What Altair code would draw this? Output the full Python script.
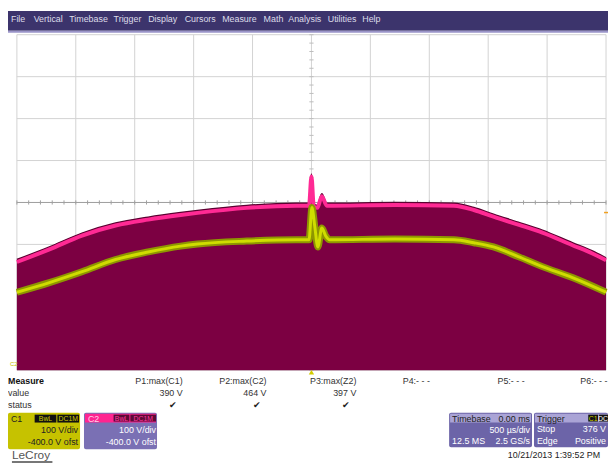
import altair as alt
import pandas as pd

# ---- waveform data (time in ms, voltage in V) ----
c2_t = [-2.5, -2.224, -1.947, -1.662, -1.386, -1.110, -0.967, -0.549, -0.13, -0.021, 0.0, 0.02, 0.05, 0.088, 0.13,
        0.708, 1.21, 1.378, 1.545, 1.755, 1.96, 2.215, 2.38, 2.5]
c2_v = [264, 294, 327, 351, 365, 376, 381, 393, 398, 398, 468, 396, 393, 421, 398,
        400, 398, 388, 372, 353, 334, 304, 285, 268]

c1_t = [-2.5, -2.224, -1.947, -1.662, -1.386, -1.110, -0.967, -0.549, -0.13, -0.021, 0.004, 0.029, 0.054, 0.088,
        0.121, 0.155, 0.708, 1.21, 1.378, 1.545, 1.755, 1.96, 2.215, 2.5]
c1_v = [186, 209, 235, 264, 282, 296, 301, 308, 311, 311, 388, 341, 294, 339,
        320, 311, 313, 311, 304, 294, 271, 247, 221, 186]

grid_t = [-2.5, -2.0, -1.5, -1.0, -0.5, 0.0, 0.5, 1.0, 1.5, 2.0, 2.5]
grid_v = [0, 100, 200, 300, 400, 500, 600, 700, 800]
minor_t = [i / 10 for i in range(-25, 26)]
minor_v = [i * 20 for i in range(0, 41)]

menu_items = ["File", "Vertical", "Timebase", "Trigger", "Display", "Cursors", "Measure", "Math", "Analysis", "Utilities", "Help"]
menu_x = [11, 34, 70, 115, 150, 187, 225, 267, 292, 332, 367]

FONT = "Liberation Sans"
OFF = 8  # page margin
XS = alt.Scale(domain=[-2.5, 2.5], range=[17 - OFF, 614 - OFF])
YS = alt.Scale(domain=[0, 800], range=[372 - OFF, 32 - OFF])

one = pd.DataFrame({"a": [0]})
layers = []


def rect(x1, y1, x2, y2, color, cr=0):
    return alt.Chart(one).mark_rect(color=color, cornerRadius=cr).encode(
        x=alt.value(x1 - OFF), x2=alt.value(x2 - OFF), y=alt.value(y1 - OFF), y2=alt.value(y2 - OFF))


def txt(x, y, s, size=9, color="#333333", align="left", weight="normal"):
    return alt.Chart(one).mark_text(text=s, align=align, baseline="middle", fontSize=size,
                                    color=color, fontWeight=weight, font=FONT).encode(
        x=alt.value(x - OFF), y=alt.value(y - OFF))


def X(f="t"):
    return alt.X(f + ":Q", scale=XS, axis=None)


def Y(f="v"):
    return alt.Y(f + ":Q", scale=YS, axis=None)


# background
layers.append(rect(8, 8, 616, 469, "#ffffff"))
# menu bar
layers.append(rect(8, 8, 616, 28, "#3c346c"))
layers.append(rect(8, 28, 616, 30, "#9a94c8"))
for name, mx in zip(menu_items, menu_x):
    layers.append(txt(max(mx, 9), 16, name, size=9, color="#dcdcea"))

# grid
gdf_t = pd.DataFrame({"t": grid_t, "v0": 0, "v1": 800})
gdf_v = pd.DataFrame({"v": grid_v, "t0": -2.5, "t1": 2.5})
layers.append(alt.Chart(gdf_t).mark_rule(color="#d2d2d2", strokeWidth=1).encode(
    x=X("t"), y=Y("v0"), y2="v1:Q"))
layers.append(alt.Chart(gdf_v).mark_rule(color="#d2d2d2", strokeWidth=1).encode(
    y=Y("v"), x=X("t0"), x2="t1:Q"))
# center lines and minor ticks
layers.append(alt.Chart(pd.DataFrame({"v": [400], "t0": [-2.5], "t1": [2.5]})).mark_rule(color="#a0a0a0").encode(
    y=Y("v"), x=X("t0"), x2="t1:Q"))
layers.append(alt.Chart(pd.DataFrame({"t": minor_t, "v0": 395, "v1": 405})).mark_rule(color="#a0a0a0").encode(
    x=X("t"), y=Y("v0"), y2="v1:Q"))
layers.append(alt.Chart(pd.DataFrame({"v": minor_v, "t0": -0.018, "t1": 0.018})).mark_rule(color="#bdbdbd").encode(
    y=Y("v"), x=X("t0"), x2="t1:Q"))

# waveforms
c2 = pd.DataFrame({"t": c2_t, "v": c2_v})
c1 = pd.DataFrame({"t": c1_t, "v": c1_v})
layers.append(alt.Chart(c2).mark_area(color="#7c0042", opacity=1, interpolate="monotone").encode(x=X(), y=Y()))
layers.append(alt.Chart(c2).mark_line(color="#5a0030", strokeWidth=1.5, interpolate="monotone").encode(x=X(), y=Y()))
layers.append(alt.Chart(c2).mark_line(color="#ff2a94", strokeWidth=4, yOffset=2.5, interpolate="monotone").encode(x=X(), y=Y()))
layers.append(alt.Chart(c1).mark_line(color="#8e9600", strokeWidth=7, interpolate="monotone").encode(x=X(), y=Y()))
layers.append(alt.Chart(c1).mark_line(color="#cfdc00", strokeWidth=3, interpolate="monotone").encode(x=X(), y=Y()))

# trigger markers
layers.append(alt.Chart(pd.DataFrame({"t": [0.0]})).mark_point(
    shape="triangle-up", filled=True, size=30, color="#d4cc00", opacity=1).encode(
    x=X("t"), y=alt.value(374 - OFF)))
layers.append(alt.Chart(pd.DataFrame({"v": [376]})).mark_rule(color="#f0a020", strokeWidth=1.5).encode(
    y=Y("v"), x=alt.value(612 - OFF), x2=alt.value(616 - OFF)))
layers.append(txt(10, 366, "C2", size=6, color="#c8c000"))

# measure table
layers.append(txt(8, 383, "Measure", size=9, color="#111111", weight="bold"))
layers.append(txt(8, 395, "value", size=9, color="#333333"))
layers.append(txt(8, 407, "status", size=9, color="#333333"))
for head, val, xr in [("P1:max(C1)", "390 V", 185), ("P2:max(C2)", "464 V", 270), ("P3:max(Z2)", "397 V", 361)]:
    layers.append(txt(xr, 383, head, align="right"))
    layers.append(txt(xr, 395, val, align="right"))
    layers.append(txt(xr - 10, 407, "✔", size=9, color="#222222", align="center"))
for head, xl in [("P4:- - -", 408), ("P5:- - -", 504), ("P6:- - -", 588)]:
    layers.append(txt(xl, 383, head))

# C1 box
layers.append(rect(8, 415, 81, 452, "#c6c200", cr=2))
layers.append(txt(11, 421, "C1", size=9, color="#222222"))
layers.append(rect(35, 417, 57, 425, "#111111"))
layers.append(rect(58, 417, 80, 425, "#111111"))
layers.append(txt(46, 421, "BwL", size=7, color="#d0cc00", align="center"))
layers.append(txt(69, 421, "DC1M", size=7, color="#d0cc00", align="center"))
layers.append(txt(79, 433, "100 V/div", color="#222222", align="right"))
layers.append(txt(79, 445, "-400.0 V ofst", color="#222222", align="right"))

# C2 box
layers.append(rect(85, 415, 159, 452, "#7a70b4", cr=2))
layers.append(rect(86, 416, 158, 425, "#ff2590"))
layers.append(txt(89, 421, "C2", size=9, color="#ffd0e8"))
layers.append(rect(115, 417, 131, 424, "#5c0a36"))
layers.append(rect(132, 417, 158, 424, "#5c0a36"))
layers.append(txt(123, 421, "BwL", size=7, color="#ff3aa0", align="center"))
layers.append(txt(145, 421, "DC1M", size=7, color="#ff3aa0", align="center"))
layers.append(txt(158, 433, "100 V/div", color="#ffffff", align="right"))
layers.append(txt(158, 445, "-400.0 V ofst", color="#ffffff", align="right"))

# Timebase box
layers.append(rect(455, 415, 539, 450, "#6c64a8", cr=2))
layers.append(rect(456, 416, 538, 425, "#aaa4d6"))
layers.append(txt(458, 421, "Timebase", color="#222222"))
layers.append(txt(537, 421, "0.00 ms", color="#222222", align="right"))
layers.append(txt(537, 433, "500 µs/div", color="#ffffff", align="right"))
layers.append(txt(458, 444, "12.5 MS", color="#ffffff"))
layers.append(txt(537, 444, "2.5 GS/s", color="#ffffff", align="right"))

# Trigger box
layers.append(rect(541, 415, 616, 450, "#6c64a8", cr=2))
layers.append(rect(542, 416, 616, 425, "#aaa4d6"))
layers.append(txt(544, 421, "Trigger", color="#222222"))
layers.append(rect(596, 417, 606, 424, "#111111"))
layers.append(rect(607, 417, 616, 424, "#111111"))
layers.append(txt(601, 421, "C1", size=7, color="#d0cc00", align="center"))
layers.append(txt(611, 421, "DC", size=7, color="#ffffff", align="center"))
layers.append(txt(544, 432, "Stop", color="#ffffff"))
layers.append(txt(614, 432, "376 V", color="#ffffff", align="right"))
layers.append(txt(544, 444, "Edge", color="#ffffff"))
layers.append(txt(614, 444, "Positive", color="#ffffff", align="right"))

# footer
layers.append(txt(12, 458, "LeCroy", size=12, color="#555555"))
layers.append(rect(12, 464, 53, 466, "#777777"))
layers.append(txt(608, 458, "10/21/2013 1:39:52 PM", size=9, color="#222222", align="right"))

chart = alt.layer(*layers).properties(
    width=608, height=461,
    autosize=alt.AutoSizeParams(type="none"),
    padding=0,
).configure_view(stroke=None)

chart.save("out.html", embed_options={"renderer": "svg", "actions": False})
